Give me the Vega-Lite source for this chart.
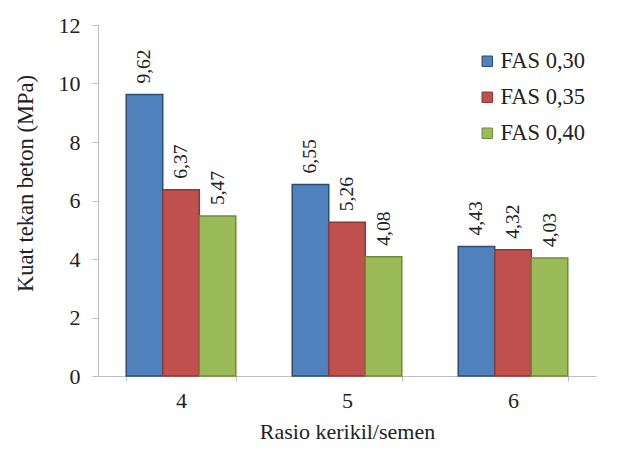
{
  "$schema": "https://vega.github.io/schema/vega-lite/v6.json",
  "autosize": "none",
  "width": 498,
  "height": 351,
  "padding": {"left": 98, "top": 25, "right": 23, "bottom": 75},
  "background": "white",
  "config": {
    "locale": {"number": {"decimal": ",", "thousands": ".", "grouping": [3], "currency": ["", ""]}},
    "view": {"stroke": null},
    "font": "Liberation Serif"
  },
  "data": {
    "values": [
      {"rasio": "4", "fas": "FAS 0,30", "kuat": 9.62},
      {"rasio": "4", "fas": "FAS 0,35", "kuat": 6.37},
      {"rasio": "4", "fas": "FAS 0,40", "kuat": 5.47},
      {"rasio": "5", "fas": "FAS 0,30", "kuat": 6.55},
      {"rasio": "5", "fas": "FAS 0,35", "kuat": 5.26},
      {"rasio": "5", "fas": "FAS 0,40", "kuat": 4.08},
      {"rasio": "6", "fas": "FAS 0,30", "kuat": 4.43},
      {"rasio": "6", "fas": "FAS 0,35", "kuat": 4.32},
      {"rasio": "6", "fas": "FAS 0,40", "kuat": 4.03}
    ]
  },
  "encoding": {
    "x": {
      "field": "rasio", "type": "nominal",
      "scale": {"paddingInner": 0.34, "paddingOuter": 0.17},
      "axis": {
        "title": "Rasio kerikil/semen", "labelAngle": 0,
        "labelFont": "Liberation Serif", "labelFontSize": 22, "labelColor": "#222222",
        "titleFont": "Liberation Serif", "titleFontSize": 22, "titleFontWeight": "normal", "titleColor": "#222222",
        "domainColor": "#BFBFBF", "tickColor": "#BFBFBF", "tickBand": "extent", "tickSize": 5,
        "labelPadding": 9, "titlePadding": 10
      }
    },
    "xOffset": {"field": "fas", "type": "nominal", "scale": {"paddingInner": 0, "paddingOuter": 0}},
    "y": {
      "field": "kuat", "type": "quantitative",
      "scale": {"domain": [0, 12], "nice": false},
      "axis": {
        "title": "Kuat tekan beton (MPa)", "values": [0, 2, 4, 6, 8, 10, 12], "grid": false,
        "labelFont": "Liberation Serif", "labelFontSize": 22, "labelColor": "#222222",
        "titleFont": "Liberation Serif", "titleFontSize": 22.5, "titleFontWeight": "normal", "titleColor": "#222222",
        "domainColor": "#BFBFBF", "tickColor": "#BFBFBF", "tickSize": 6, "labelPadding": 12,
        "titleX": -73, "titleY": 158, "titleAngle": -90, "titleAlign": "center", "titleBaseline": "middle"
      }
    }
  },
  "layer": [
    {
      "mark": {"type": "bar", "strokeWidth": 1.5},
      "encoding": {
        "color": {
          "field": "fas", "type": "nominal",
          "scale": {"domain": ["FAS 0,30", "FAS 0,35", "FAS 0,40"], "range": ["#4F81BD", "#C0504D", "#9BBB59"]},
          "legend": {
            "title": null, "orient": "none", "legendX": 378, "legendY": 25,
            "labelFont": "Liberation Serif", "labelFontSize": 22.5, "labelColor": "#222222",
            "symbolType": "square", "symbolSize": 110, "rowPadding": 13, "labelOffset": 2,
            "symbolStrokeWidth": 1
          }
        },
        "stroke": {
          "field": "fas", "type": "nominal",
          "scale": {"domain": ["FAS 0,30", "FAS 0,35", "FAS 0,40"], "range": ["#2C4D75", "#8C3836", "#6E8B3D"]},
          "legend": null
        }
      }
    },
    {
      "mark": {"type": "text", "angle": -90, "align": "left", "baseline": "middle", "dx": 11, "font": "Liberation Serif", "fontSize": 19.5, "color": "#222222"},
      "encoding": {
        "text": {"field": "kuat", "type": "quantitative", "format": ".2f"}
      }
    }
  ]
}
